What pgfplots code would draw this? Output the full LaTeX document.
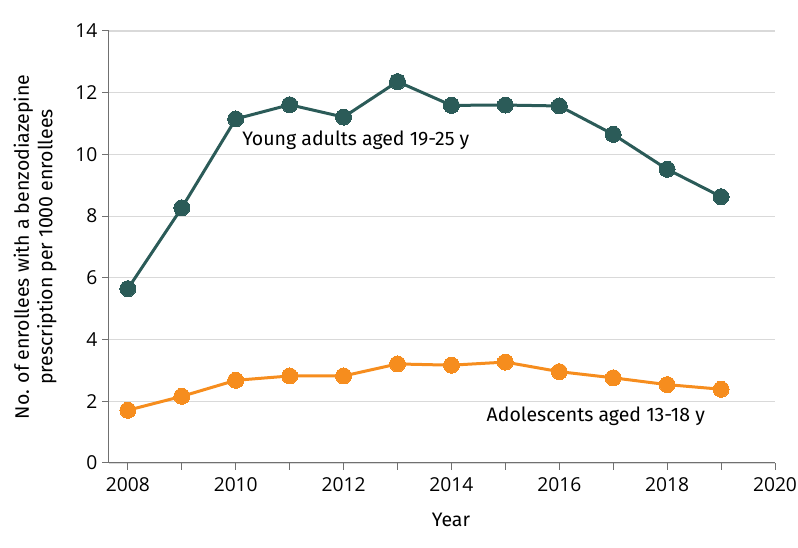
\documentclass[border=0pt]{standalone}
\usepackage{fontspec}
\setmainfont{Fira Sans}
\newfontfamily\tickfam{Open Sans}
\usepackage{pgfplots}
\pgfplotsset{compat=1.18}
\definecolor{teal}{HTML}{2B5B58}
\definecolor{orng}{HTML}{F68D1E}
\definecolor{gridc}{HTML}{D9D9D9}
\definecolor{axc}{HTML}{707070}
\newcommand{\bigf}{\fontsize{19.5pt}{23.5pt}\selectfont}
\newcommand{\tkf}{\tickfam\fontsize{19.2pt}{23pt}\selectfont}
\begin{document}
\bigf
\begin{tikzpicture}
\path[use as bounding box] (-109pt,-85pt) rectangle (689pt,463pt);
\begin{axis}[
  at={(0,0)}, anchor=south west,
  scale only axis, width=666pt, height=432pt,
  xmin=2007.65, xmax=2020, ymin=0, ymax=14,
  axis lines*=left,
  axis line style={axc, line width=1pt},
  xtick={2008,2010,...,2020},
  xticklabels={2008,2010,2012,2014,2016,2018,2020},
  minor xtick={2009,2011,...,2019},
  ytick={0,2,...,14},
  yticklabels={0,2,4,6,8,10,12,14},
  ticklabel style={font=\tkf},
  tick style={axc, line width=1pt},
  tick align=outside,
  major tick length=7pt, minor tick length=7pt,
  ymajorgrids, grid style={gridc, line width=1.2pt},
  xticklabel style={yshift=-1pt},
  yticklabel style={xshift=2pt},
  label style={font=\bigf},
  xlabel={Year},
  ylabel={No. of enrollees with a benzodiazepine\\prescription per 1000 enrollees},
  ylabel style={align=center, at={(axis description cs:-0.111,0.5)}, anchor=center},
  xlabel style={at={(axis description cs:0.5,0)}, xshift=9pt, yshift=-57pt, anchor=center},
  clip=false,
]
\addplot[teal, line width=3pt, mark=*, mark size=8pt, mark options={fill=teal, draw=teal, line width=0pt}] coordinates {
(2008,5.65) (2009,8.27) (2010,11.15) (2011,11.61) (2012,11.21) (2013,12.36)
(2014,11.59) (2015,11.60) (2016,11.57) (2017,10.65) (2018,9.52) (2019,8.63)};
\addplot[orng, line width=3pt, mark=*, mark size=8pt, mark options={fill=orng, draw=orng, line width=0pt}] coordinates {
(2008,1.71) (2009,2.16) (2010,2.68) (2011,2.82) (2012,2.82) (2013,3.21)
(2014,3.17) (2015,3.27) (2016,2.96) (2017,2.76) (2018,2.54) (2019,2.39)};
\node[anchor=west, inner sep=0pt] at (axis cs:2010.12,10.45) {Young adults aged 19-25 y};
\node[anchor=west, inner sep=0pt] at (axis cs:2014.65,1.52) {Adolescents aged 13-18 y};
\end{axis}
\end{tikzpicture}
\end{document}
